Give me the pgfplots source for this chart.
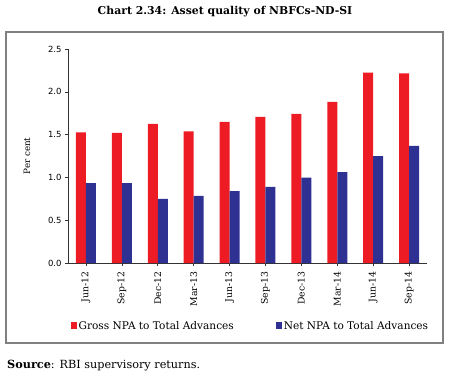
\documentclass[border=0pt]{standalone}
\usepackage{pgfplots}
\pgfplotsset{compat=1.18}
\usepackage{fontspec}
\setmainfont{DejaVu Serif}
\newfontfamily\tickfont{DejaVu Sans}
\definecolor{gross}{HTML}{ED1C24}
\definecolor{net}{HTML}{2E3192}
\definecolor{framegray}{HTML}{808080}
\pgfplotstableread{
x gross net
0 1.527 0.934
1 1.520 0.934
2 1.625 0.750
3 1.539 0.785
4 1.648 0.840
5 1.707 0.890
6 1.742 0.996
7 1.883 1.062
8 2.223 1.250
9 2.215 1.367
}\npadata
\begin{document}
\begin{tikzpicture}[x=1bp,y=1bp]
\useasboundingbox (-68,-114) rectangle (387,263);
\draw[framegray, line width=1.2bp] (-62,-80) rectangle (375,231);
\node[font=\bfseries\fontsize{10.9}{12}\selectfont] at (157,251) {Chart 2.34: Asset quality of NBFCs-ND-SI};
\node[anchor=west, font=\fontsize{11.3}{13}\selectfont, inner sep=0pt] at (-61,-103) {\textbf{Source}: RBI supervisory returns.};
\begin{axis}[
  at={(0,0)}, anchor=south west,
  scale only axis, width=359bp, height=214bp,
  ybar=0pt, bar width=10bp,
  xmin=-0.5, xmax=9.5, ymin=0, ymax=2.5,
  axis x line=bottom, axis y line=left,
  axis line style={-, black!80, line width=0.6bp},
  xtick=data,
  xticklabels={Jun-12,Sep-12,Dec-12,Mar-13,Jun-13,Sep-13,Dec-13,Mar-14,Jun-14,Sep-14},
  x tick label style={rotate=90, anchor=east, font=\fontsize{9.3}{10}\selectfont, inner sep=5.5bp},
  ytick={0,0.5,1,1.5,2,2.5},
  y tick label style={font=\tickfont\fontsize{8.5}{9}\selectfont},
  y tick label style={/pgf/number format/fixed, /pgf/number format/fixed zerofill, /pgf/number format/precision=1},
  /pgf/number format/assume math mode=true,
  tick align=outside, major tick length=3bp,
  tick style={black!80, line width=0.6bp},
  ylabel={Per cent},
  ylabel style={font=\fontsize{8.8}{10}\selectfont, at={(axis description cs:-0.114,0.5)}, anchor=center},
  legend columns=2,
  legend style={at={(axis description cs:0.508,-0.294)}, anchor=center, draw=none, fill=none,
    font=\fontsize{10.6}{12}\selectfont, column sep=0pt, inner sep=0pt,
    /tikz/every even column/.append style={column sep=40bp}},
  legend image code/.code={\fill[#1] (0bp,-3.5bp) rectangle (6bp,3.5bp);},
]
\addplot[fill=gross, draw=none] table[x=x, y=gross] {\npadata};
\addplot[fill=net, draw=none] table[x=x, y=net] {\npadata};
\legend{Gross NPA to Total Advances, Net NPA to Total Advances}
\end{axis}
\end{tikzpicture}
\end{document}
